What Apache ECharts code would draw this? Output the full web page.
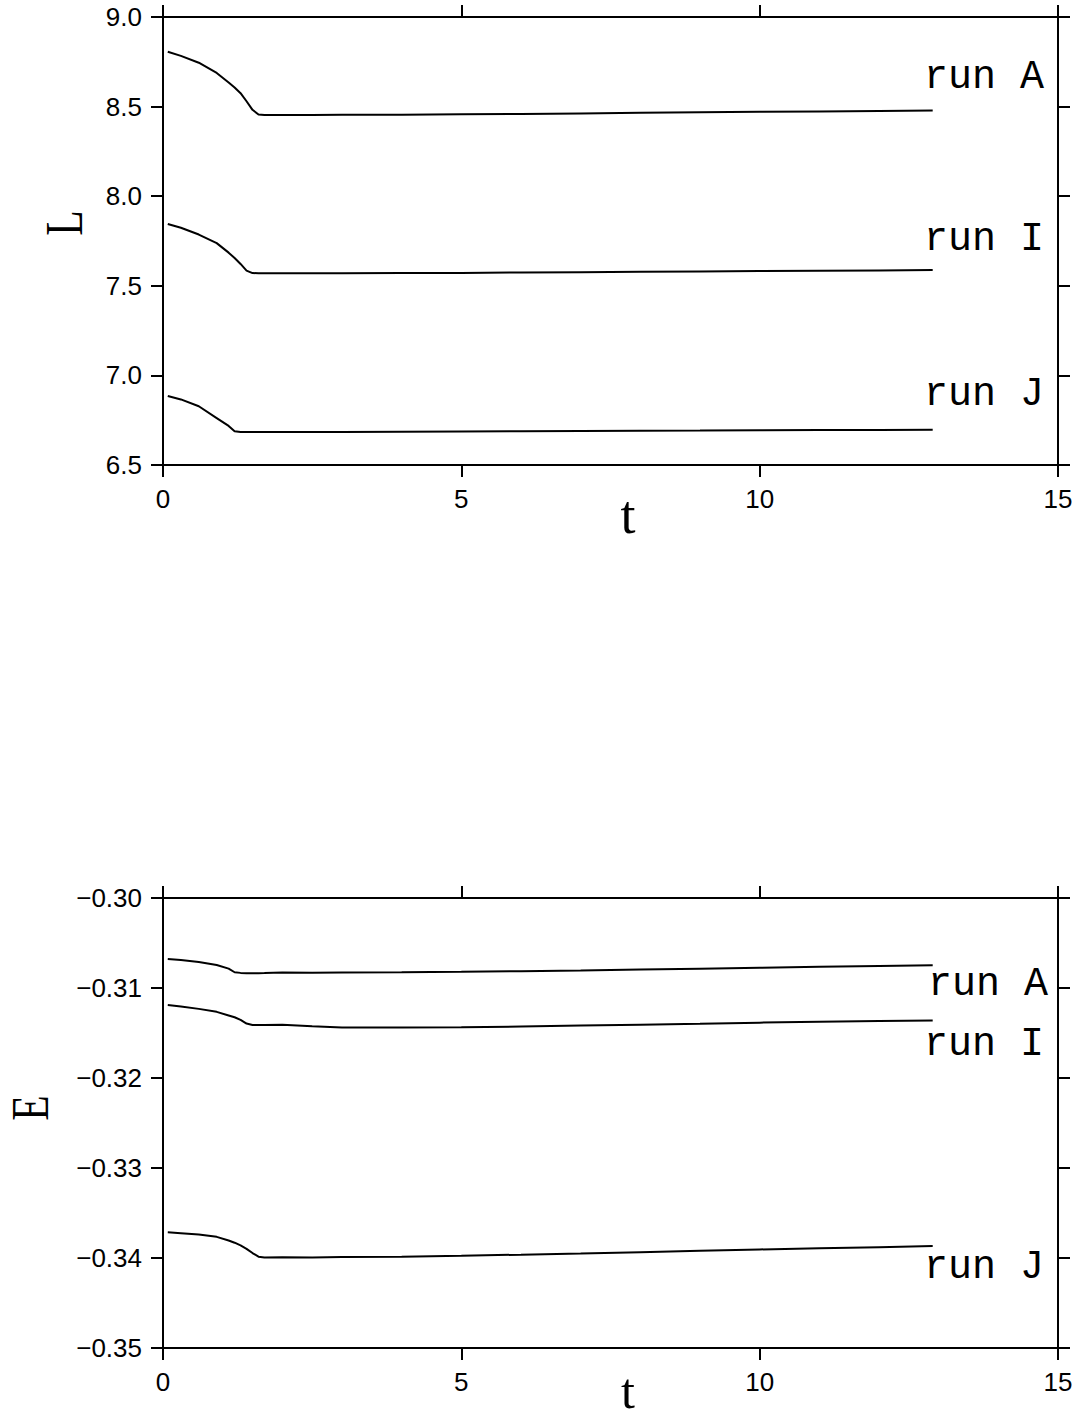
<!DOCTYPE html>
<html>
<head>
<meta charset="utf-8">
<script src="https://cdn.jsdelivr.net/npm/echarts@6/dist/echarts.min.js"></script>
<style>
html,body{margin:0;padding:0;background:#fff;}
#chart{width:1075px;height:1418px;}
</style>
</head>
<body>
<div id="chart"></div>
<script>
// time samples shared by all runs
const T = [0.08, 0.3, 0.6, 0.9, 1.1, 1.2, 1.3, 1.4, 1.5, 1.6, 1.7, 2.0, 2.5, 3, 4, 5, 6, 7, 8, 9, 10, 11, 12, 12.9];

// angular momentum L
const L_A = [8.806, 8.783, 8.745, 8.688, 8.635, 8.607, 8.575, 8.530, 8.482, 8.456, 8.453, 8.453, 8.453, 8.454, 8.455, 8.457, 8.459, 8.462, 8.465, 8.468, 8.471, 8.473, 8.476, 8.478];
const L_I = [7.845, 7.824, 7.786, 7.738, 7.685, 7.655, 7.622, 7.585, 7.571, 7.570, 7.570, 7.570, 7.570, 7.570, 7.571, 7.572, 7.574, 7.576, 7.578, 7.580, 7.582, 7.584, 7.586, 7.588];
const L_J = [6.885, 6.866, 6.828, 6.762, 6.718, 6.688, 6.684, 6.684, 6.684, 6.684, 6.684, 6.684, 6.684, 6.684, 6.685, 6.687, 6.689, 6.690, 6.691, 6.692, 6.694, 6.695, 6.696, 6.697];

// energy E
const E_A = [-0.30678, -0.30690, -0.30712, -0.30745, -0.30785, -0.30825, -0.30832, -0.30835, -0.30836, -0.30835, -0.30834, -0.30828, -0.30830, -0.30828, -0.30826, -0.30820, -0.30813, -0.30805, -0.30795, -0.30785, -0.30775, -0.30765, -0.30755, -0.30746];
const E_I = [-0.31189, -0.31205, -0.31232, -0.31265, -0.31305, -0.31325, -0.31355, -0.31395, -0.31410, -0.31412, -0.31410, -0.31408, -0.31425, -0.31438, -0.31440, -0.31437, -0.31428, -0.31418, -0.31408, -0.31398, -0.31385, -0.31376, -0.31368, -0.31360];
const E_J = [-0.33715, -0.33725, -0.33740, -0.33765, -0.33805, -0.33830, -0.33860, -0.33898, -0.33945, -0.33985, -0.33995, -0.33993, -0.33995, -0.33990, -0.33985, -0.33975, -0.33963, -0.33950, -0.33935, -0.33920, -0.33905, -0.33893, -0.33880, -0.33868];

// axis ranges and labels
const X_RANGE = {min: 0, max: 15, interval: 5};
const L_RANGE = {min: 6.5, max: 9.0, interval: 0.5};
const E_RANGE = {min: -0.35, max: -0.30, interval: 0.01};
const RUN_NAMES = ['run A', 'run I', 'run J'];

const pairs = (vals) => T.map((t, i) => [t, vals[i]]);

const lineW = 2;
const tickFont = {fontSize: 26, fontFamily: '"Liberation Sans", Arial, sans-serif', color: '#000'};
const axisLine = {show: true, onZero: false, lineStyle: {color: '#000', width: lineW}};
const axisTick = {show: true, inside: false, length: 12, lineStyle: {color: '#000', width: lineW}};

function xAx(grid, pos, showLabel) {
  return Object.assign({
    type: 'value', gridIndex: grid, position: pos,
    axisLine: axisLine, axisTick: axisTick, splitLine: {show: false},
    axisLabel: Object.assign({show: showLabel, margin: 21}, tickFont)
  }, X_RANGE);
}
function yAx(grid, pos, showLabel, range, fmt) {
  return Object.assign({
    type: 'value', gridIndex: grid, position: pos,
    axisLine: axisLine, axisTick: axisTick, splitLine: {show: false},
    axisLabel: Object.assign({show: showLabel, margin: 21, formatter: fmt}, tickFont)
  }, range);
}
const fmtL = v => v.toFixed(1);
const fmtE = v => (v < 0 ? '\u2212' : '') + Math.abs(v).toFixed(2);

function ser(name, xi, yi, vals) {
  return {
    name: name, type: 'line', xAxisIndex: xi, yAxisIndex: yi,
    data: pairs(vals), showSymbol: false, symbol: 'none', smooth: false,
    lineStyle: {color: '#000', width: lineW}, silent: true, animation: false
  };
}

const monoFont = '40px "Liberation Mono", "DejaVu Sans Mono", monospace';
const serifFont = '"Liberation Serif", "DejaVu Serif", serif';
function runText(txt, x, y) {
  return {type: 'text', x: x, y: y, silent: true,
    style: {text: txt, font: monoFont, fill: '#000', align: 'center', verticalAlign: 'middle'}};
}
function nameText(txt, x, y, size, rot, sx, va) {
  return {type: 'text', x: x, y: y, rotation: rot || 0, scaleX: sx || 1, silent: true,
    style: {text: txt, font: size + 'px ' + serifFont, fill: '#000', align: 'center', verticalAlign: va || 'middle'}};
}

const chart = echarts.init(document.getElementById('chart'), null, {renderer: 'svg'});
chart.setOption({
  backgroundColor: '#fff',
  animation: false,
  grid: [
    {left: 163, top: 17, width: 895, height: 448, outerBoundsMode: 'none', containLabel: false},
    {left: 163, top: 898, width: 895, height: 450, outerBoundsMode: 'none', containLabel: false}
  ],
  xAxis: [xAx(0, 'bottom', true), xAx(0, 'top', false), xAx(1, 'bottom', true), xAx(1, 'top', false)],
  yAxis: [yAx(0, 'left', true, L_RANGE, fmtL), yAx(0, 'right', false, L_RANGE, fmtL),
          yAx(1, 'left', true, E_RANGE, fmtE), yAx(1, 'right', false, E_RANGE, fmtE)],
  series: [
    ser(RUN_NAMES[0], 0, 0, L_A), ser(RUN_NAMES[1], 0, 0, L_I), ser(RUN_NAMES[2], 0, 0, L_J),
    ser(RUN_NAMES[0], 2, 2, E_A), ser(RUN_NAMES[1], 2, 2, E_I), ser(RUN_NAMES[2], 2, 2, E_J)
  ],
  graphic: [
    runText(RUN_NAMES[0], 984, 77), runText(RUN_NAMES[1], 984, 239), runText(RUN_NAMES[2], 984, 394),
    runText(RUN_NAMES[0], 988, 984), runText(RUN_NAMES[1], 984, 1044), runText(RUN_NAMES[2], 984, 1267),
    nameText('L', 64, 223, 52, Math.PI / 2, 0.8),
    nameText('E', 30, 1108, 52, Math.PI / 2, 0.8),
    nameText('t', 628, 515, 54),
    nameText('t', 628, 1416, 50, 0, 1, 'bottom')
  ]
});
</script>
</body>
</html>
